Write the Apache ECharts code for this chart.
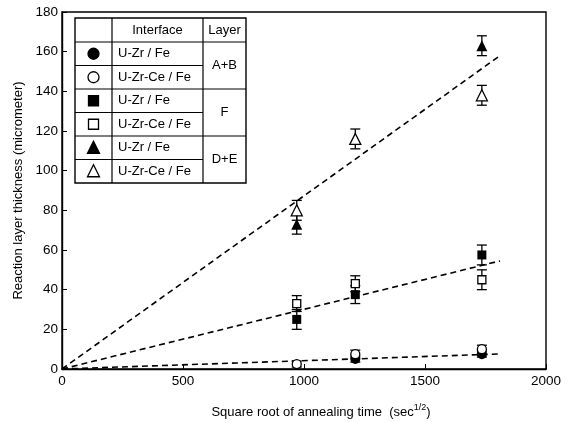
<!DOCTYPE html>
<html>
<head>
<meta charset="utf-8">
<script src="https://cdn.jsdelivr.net/npm/echarts@6/dist/echarts.min.js"></script>
<style>html,body{margin:0;padding:0;background:#fff}#c{width:570px;height:422px}</style>
</head>
<body>
<div id="c"></div>
<script>
// ---- data ----
var xTimes = [970, 1212, 1735];
var circleFilled = [null, 5, 7.5];
var circleFilledErr = [null, 1.5, 1.5];
var circleOpen = [2.5, 7.5, 10];
var circleOpenErr = [1.5, 2, 2];
var squareFilled = [25, 37.5, 57.5];
var squareFilledErr = [5, 4.5, 5];
var squareOpen = [33, 43, 45];
var squareOpenErr = [4, 4, 5];
var triFilled = [73, null, 163];
var triFilledErr = [5, null, 5];
var triOpen = [80, 116, 138];
var triOpenErr = [5, 5, 5];
var fitX = [0, 1810];
var fitDE = [0, 158];
var fitF = [0, 54.5];
var fitAB = [0, 7.6];
var xTicks = [0, 500, 1000, 1500, 2000];
var yTicks = [0, 20, 40, 60, 80, 100, 120, 140, 160, 180];
var rowLabels = ['U-Zr / Fe', 'U-Zr-Ce / Fe', 'U-Zr / Fe', 'U-Zr-Ce / Fe', 'U-Zr / Fe', 'U-Zr-Ce / Fe'];
var layerLabels = ['A+B', 'F', 'D+E'];

var FONT = 'Liberation Sans, Arial, Helvetica, sans-serif';

function pts(vals) {
  var out = [];
  for (var i = 0; i < xTimes.length; i++) if (vals[i] != null) out.push([xTimes[i], vals[i]]);
  return out;
}
function errs(vals, e) {
  var out = [];
  for (var i = 0; i < xTimes.length; i++) if (vals[i] != null) out.push([xTimes[i], vals[i] - e[i], vals[i] + e[i]]);
  return out;
}
function line(ys) { return fitX.map(function (x, i) { return [x, ys[i]]; }); }

var errData = [].concat(
  errs(circleFilled, circleFilledErr), errs(circleOpen, circleOpenErr),
  errs(squareFilled, squareFilledErr), errs(squareOpen, squareOpenErr),
  errs(triFilled, triFilledErr), errs(triOpen, triOpenErr));

function renderErr(params, api) {
  var x = api.value(0), lo = api.value(1), hi = api.value(2);
  var p1 = api.coord([x, hi]), p2 = api.coord([x, lo]);
  var w = 5, st = { stroke: '#000', lineWidth: 1.3 };
  return { type: 'group', children: [
    { type: 'line', shape: { x1: p1[0], y1: p1[1], x2: p2[0], y2: p2[1] }, style: st },
    { type: 'line', shape: { x1: p1[0] - w, y1: p1[1], x2: p1[0] + w, y2: p1[1] }, style: st },
    { type: 'line', shape: { x1: p2[0] - w, y1: p2[1], x2: p2[0] + w, y2: p2[1] }, style: st }
  ]};
}

function scatter(name, data, symbol, size, filled) {
  return { name: name, type: 'scatter', data: data, symbol: symbol, symbolSize: size, z: 5,
    itemStyle: { color: filled ? '#000' : '#fff', borderColor: '#000', borderWidth: filled ? 0 : 1.3, opacity: 1 } };
}
function fit(ys) {
  return { type: 'line', data: line(ys), symbol: 'none', z: 3, silent: true,
    lineStyle: { color: '#000', width: 1.6, type: [6, 4] } };
}

// ---- legend table (graphic) ----
var tL = 75, c1 = 112, c2 = 203, tR = 246, tT = 18, hH = 24, rH = 23.5;
var g = [];
var ls = { stroke: '#000', lineWidth: 1.2 };
var tBot = tT + hH + 6 * rH;
g.push({ type: 'rect', shape: { x: tL, y: tT, width: tR - tL, height: tBot - tT }, style: { fill: '#fff', stroke: '#000', lineWidth: 1.4 }, z: 10 });
g.push({ type: 'line', shape: { x1: c1, y1: tT, x2: c1, y2: tBot }, style: ls, z: 11 });
g.push({ type: 'line', shape: { x1: c2, y1: tT, x2: c2, y2: tBot }, style: ls, z: 11 });
for (var r = 0; r < 6; r++) {
  var yy = tT + hH + r * rH;
  var full = (r % 2 === 0);
  g.push({ type: 'line', shape: { x1: tL, y1: yy, x2: full ? tR : c2, y2: yy }, style: ls, z: 11 });
}
g.push({ type: 'text', x: (c1 + c2) / 2, y: tT + hH / 2, style: { text: 'Interface', font: '13px ' + FONT, fill: '#000', textAlign: 'center', textVerticalAlign: 'middle' }, z: 12 });
g.push({ type: 'text', x: (c2 + tR) / 2, y: tT + hH / 2, style: { text: 'Layer', font: '13px ' + FONT, fill: '#000', textAlign: 'center', textVerticalAlign: 'middle' }, z: 12 });
for (var r2 = 0; r2 < 6; r2++) {
  var cy = tT + hH + r2 * rH + rH / 2;
  g.push({ type: 'text', x: c1 + 6, y: cy, style: { text: rowLabels[r2], font: '13px ' + FONT, fill: '#000', textAlign: 'left', textVerticalAlign: 'middle' }, z: 12 });
  var filled = (r2 % 2 === 0);
  var sx = (tL + c1) / 2;
  var sty = { fill: filled ? '#000' : '#fff', stroke: '#000', lineWidth: 1.3 };
  var kind = Math.floor(r2 / 2);
  if (kind === 0) g.push({ type: 'circle', shape: { cx: sx, cy: cy, r: 5.5 }, style: sty, z: 12 });
  else if (kind === 1) g.push({ type: 'rect', shape: { x: sx - 5, y: cy - 5, width: 10, height: 10 }, style: sty, z: 12 });
  else g.push({ type: 'polygon', shape: { points: [[sx, cy - 6.5], [sx + 6, cy + 5.5], [sx - 6, cy + 5.5]] }, style: sty, z: 12 });
}
for (var k = 0; k < 3; k++) {
  var ly = tT + hH + k * 2 * rH + rH;
  g.push({ type: 'text', x: (c2 + tR) / 2, y: ly, style: { text: layerLabels[k], font: '13px ' + FONT, fill: '#000', textAlign: 'center', textVerticalAlign: 'middle' }, z: 12 });
}

var chart = echarts.init(document.getElementById('c'), null, { renderer: 'canvas' });
chart.setOption({
  backgroundColor: '#fff',
  animation: false,
  grid: { left: 62, right: 24, top: 12, bottom: 53, containLabel: false, outerBoundsMode: 'none', show: true, borderColor: '#000', borderWidth: 1.4, backgroundColor: 'transparent' },
  xAxis: {
    type: 'value', min: xTicks[0], max: xTicks[xTicks.length - 1], interval: 500,
    name: '{a|Square root of annealing time  (sec}{s|1/2}{a|)}', nameLocation: 'middle', nameGap: 34,
    nameTextStyle: { padding: [0, 0, 0, 34], rich: { a: { fontSize: 13, fontFamily: FONT, color: '#000', verticalAlign: 'bottom', lineHeight: 16 }, s: { fontSize: 9, fontFamily: FONT, color: '#000', verticalAlign: 'top', lineHeight: 16, padding: [0, 0, 8, 0] } } },
    axisLine: { lineStyle: { color: '#000', width: 1.4 } },
    axisTick: { inside: true, length: 5, lineStyle: { color: '#000' } },
    axisLabel: { color: '#000', fontSize: 13.5, fontFamily: FONT, margin: 5, formatter: function (v) { return String(v); } },
    splitLine: { show: false }
  },
  yAxis: {
    type: 'value', min: yTicks[0], max: yTicks[yTicks.length - 1], interval: 20,
    name: 'Reaction layer thickness (micrometer)', nameLocation: 'middle', nameGap: 36,
    nameTextStyle: { fontSize: 13, fontFamily: FONT, color: '#000' },
    axisLine: { lineStyle: { color: '#000', width: 1.4 } },
    axisTick: { inside: true, length: 5, lineStyle: { color: '#000' } },
    axisLabel: { color: '#000', fontSize: 13.5, fontFamily: FONT, margin: 4, formatter: function (v) { return String(v); } },
    splitLine: { show: false }
  },
  graphic: g,
  series: [
    fit(fitDE), fit(fitF), fit(fitAB),
    { type: 'custom', data: errData, renderItem: renderErr, z: 4, encode: { x: 0, y: [1, 2] } },
    scatter('U-Zr / Fe A+B', pts(circleFilled), 'circle', 10, true),
    scatter('U-Zr-Ce / Fe A+B', pts(circleOpen), 'circle', 9, false),
    scatter('U-Zr / Fe F', pts(squareFilled), 'rect', 9, true),
    scatter('U-Zr-Ce / Fe F', pts(squareOpen), 'rect', 8, false),
    scatter('U-Zr / Fe D+E', pts(triFilled), 'triangle', 11, true),
    scatter('U-Zr-Ce / Fe D+E', pts(triOpen), 'triangle', 11, false)
  ]
});
</script>
</body>
</html>
